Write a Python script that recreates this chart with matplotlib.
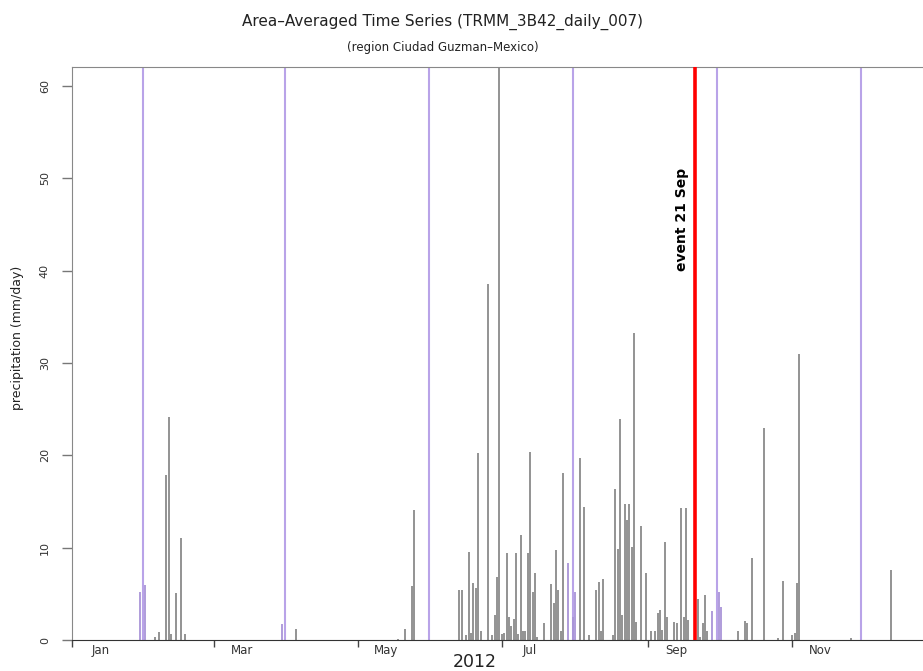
import matplotlib
matplotlib.use('Agg')
import matplotlib.pyplot as plt

# daily rain (mm/day), day index counted from 1 Jan 2012
rain_days = [29, 31, 35, 37, 40, 41, 42, 44, 46, 48,
             89, 95, 138, 141, 144, 145,
             164, 165, 167, 168, 169, 170, 171, 172, 173, 176, 178, 179, 180, 181,
             182, 183, 184, 185, 186, 187, 188, 189, 190, 191, 192, 193, 194, 195,
             196, 197, 200, 203, 204, 205, 206, 207, 208, 210, 212,
             213, 215, 217, 219, 222, 223, 224, 225, 229, 230, 231, 232, 233, 234,
             235, 236, 237, 238, 239, 241, 243, 245, 247, 248, 249, 250, 251, 252,
             255, 256, 258, 259, 260, 261,
             265, 266, 267, 268, 269, 271, 274, 275, 282, 285, 286, 288, 293, 299,
             301, 305, 306, 307, 308, 330, 347]
rain_vals = [5.2, 6.0, 0.3, 0.9, 17.9, 24.2, 0.7, 5.1, 11.0, 0.6,
             1.7, 1.2, 0.1, 1.2, 5.9, 14.1,
             5.4, 5.4, 0.5, 9.5, 0.8, 6.2, 5.6, 20.3, 1.0, 38.6, 0.5, 2.7, 6.8, 75.0,
             0.6, 0.8, 9.4, 2.5, 1.5, 2.3, 9.4, 0.6, 11.4, 1.0, 1.0, 9.4, 20.4,
             5.2, 7.3, 0.3, 1.8, 6.1, 4.0, 9.8, 5.4, 1.0, 18.1, 8.3, 2.5,
             5.2, 19.7, 14.4, 0.5, 5.4, 6.3, 1.0, 6.6, 0.5, 16.4, 9.9, 23.9, 2.7,
             14.7, 13.0, 14.7, 10.1, 33.3, 2.0, 12.4, 7.3, 1.0, 1.0, 2.9, 3.3, 1.1,
             10.6, 2.5, 2.0, 1.8, 14.3, 2.5, 14.3, 2.2,
             4.4, 0.3, 1.8, 4.9, 1.0, 3.1, 5.2, 3.6, 1.0, 2.1, 1.8, 8.9, 23.0, 0.2,
             6.4, 0.5, 0.8, 6.2, 31.0, 0.2, 7.6]

month_days = [0, 60, 121, 182, 244, 305]
month_labels = ['Jan', 'Mar', 'May', 'Jul', 'Sep', 'Nov']
mark_days = [30, 90, 151, 212, 273, 334]   # end of every other month
event_day = 264                            # 21 Sep

gray = '#8a8a8a'
purple = '#a994d8'

fig = plt.figure(figsize=(9.23, 6.71), dpi=100)
ax = fig.add_axes([72/923, 31/671, (934-72)/923, 573/671])

for m in mark_days:
    ax.axvline(m, color='#b9a3e8', lw=1.5, zorder=1)

cols = [purple if min(abs(d - m) for m in mark_days) <= 2 else gray for d in rain_days]
ax.vlines(rain_days, 0, rain_vals, colors=cols, lw=1.3, zorder=2)

ax.axvline(event_day, color='red', lw=2.6, zorder=3)
ax.text(event_day - 5.5, 45.5, 'event 21 Sep', rotation=90, fontweight='bold',
        fontsize=10, ha='center', va='center')

ax.set_xlim(0, 365)
ax.set_ylim(0, 62.06)

ax.set_xticks(month_days)
ax.set_xticklabels([])
ax.set_xticks([d + 12 for d in month_days], minor=True)
ax.set_xticklabels(month_labels, minor=True)
ax.tick_params(axis='x', which='major', length=5, width=1, color='#444')
ax.tick_params(axis='x', which='minor', length=0, pad=3, labelsize=8.5, labelcolor='#333')

ax.set_yticks(range(0, 61, 10))
ax.tick_params(axis='y', length=7, width=1, color='#777', pad=9, labelsize=8, labelcolor='#333')
for lbl in ax.get_yticklabels():
    lbl.set_rotation(90)
    lbl.set_va('center')

for side in ['left', 'top', 'right']:
    ax.spines[side].set_color('#888')
ax.spines['bottom'].set_color('#333')

ax.text(170.6, -0.038, '2012', transform=ax.get_xaxis_transform(),
        ha='center', va='center', fontsize=12.5, color='#222')

fig.text(18/923, 1 - 338/671, 'precipitation (mm/day)', rotation=90,
         ha='center', va='center', fontsize=9, color='#222')
fig.text(442/923, 1 - 22/671, 'Area\u2013Averaged Time Series (TRMM_3B42_daily_007)',
         ha='center', va='center', fontsize=11, color='#222')
fig.text(443/923, 1 - 47/671, '(region Ciudad Guzman\u2013Mexico)',
         ha='center', va='center', fontsize=8.5, color='#222')

fig.savefig('out.png', dpi=100)
